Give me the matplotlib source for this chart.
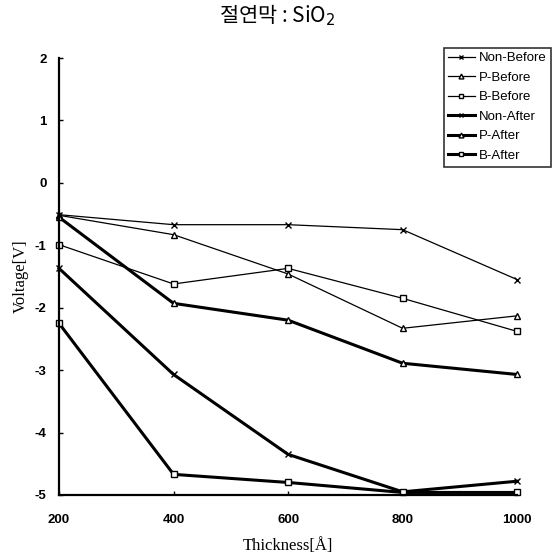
import numpy as np
import matplotlib
matplotlib.use('Agg')
import matplotlib.pyplot as plt

plt.rcParams['axes.unicode_minus'] = False

thickness = [200, 400, 600, 800, 1000]
non_before = [-0.51, -0.67, -0.67, -0.75, -1.55]
p_before = [-0.52, -0.83, -1.46, -2.33, -2.13]
b_before = [-0.99, -1.62, -1.37, -1.85, -2.38]
non_after = [-1.37, -3.07, -4.35, -4.95, -4.78]
p_after = [-0.55, -1.93, -2.20, -2.89, -3.07]
b_after = [-2.25, -4.67, -4.80, -4.96, -4.96]

series = [
    ('Non-Before', non_before, 'x', 0.9),
    ('P-Before', p_before, '^', 0.9),
    ('B-Before', b_before, 's', 0.9),
    ('Non-After', non_after, 'x', 2.2),
    ('P-After', p_after, '^', 2.2),
    ('B-After', b_after, 's', 2.2),
]

fig = plt.figure(figsize=(5.54, 5.58), dpi=100)
ax = fig.add_axes([0.1065, 0.113, 0.827, 0.783])

for name, vals, mk, lw in series:
    ax.plot(thickness, vals, color='black', lw=lw, marker=mk, ms=5,
            mfc='white', mec='black', mew=1.0, label=name, clip_on=False)

ax.set_xlim(200, 1000)
ax.set_ylim(-5, 2)
ax.set_xticks(thickness)
ax.set_yticks(range(-5, 3))
ax.spines['top'].set_visible(False)
ax.spines['right'].set_visible(False)
ax.spines['left'].set_linewidth(1.6)
ax.spines['bottom'].set_linewidth(1.6)
ax.tick_params(axis='y', direction='in', length=3, width=1, pad=9)
ax.tick_params(axis='x', direction='in', length=3, width=1, pad=14)
for lab in ax.get_xticklabels() + ax.get_yticklabels():
    lab.set_fontfamily('Liberation Sans')
    lab.set_fontweight('bold')
    lab.set_fontsize(9.5)

ax.set_xlabel('Thickness[Å]', family='Liberation Serif', fontsize=12, labelpad=8)
ax.set_ylabel('Voltage[V]', family='Liberation Serif', fontsize=12, labelpad=4)

fig.text(0.5, 0.972, '절연막 : SiO$_2$', ha='center', va='center', fontsize=15,
         family=['Noto Sans CJK KR', 'DejaVu Sans'])

leg = ax.legend(loc='upper left', bbox_to_anchor=(437 / 554, 1 - 41 / 558),
                bbox_transform=fig.transFigure, frameon=True, fancybox=False,
                edgecolor='black', handlelength=2.0, handletextpad=0.3,
                borderpad=0.35, labelspacing=0.55, markerscale=0.7,
                prop={'family': 'Liberation Sans', 'size': 9.5})
leg.get_frame().set_linewidth(1.2)

fig.savefig('out.png', dpi=100)
